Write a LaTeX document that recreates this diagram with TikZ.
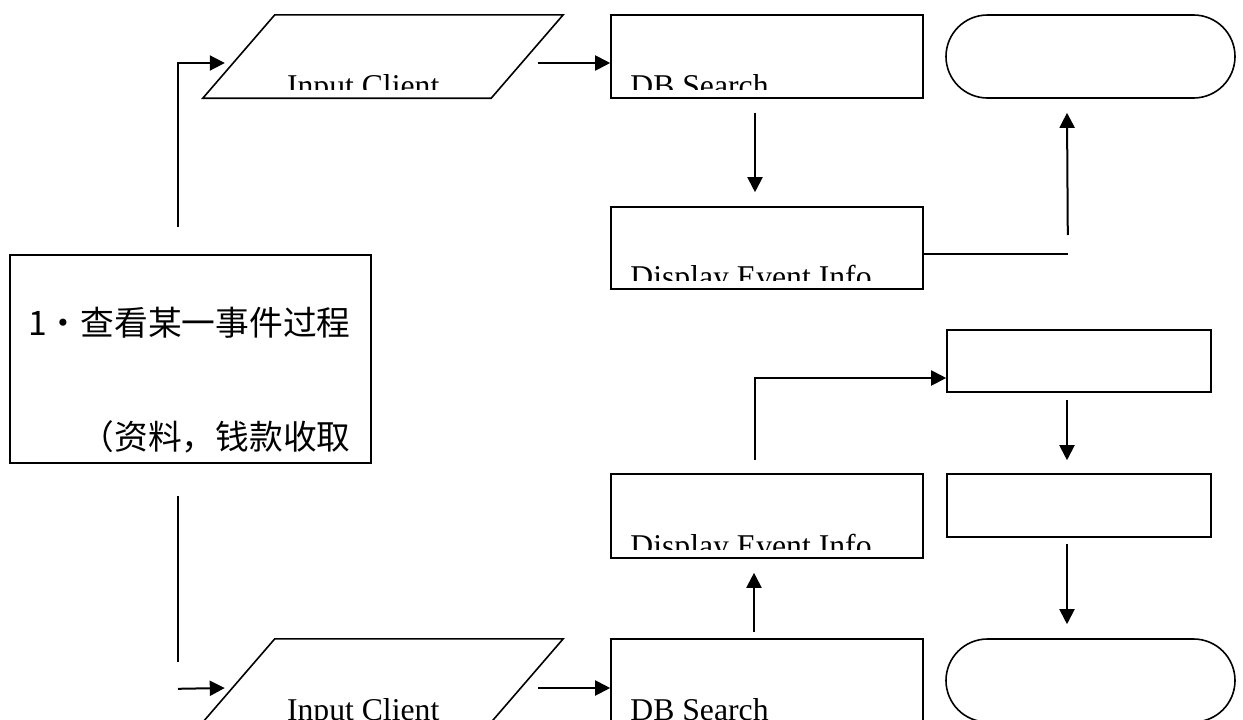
\documentclass[tikz,border=0pt]{standalone}
\usepackage{fontspec}
\setmainfont{Liberation Serif}
\newfontfamily\cjk{Noto Sans CJK SC}
\usetikzlibrary{arrows.meta,calc,positioning}

% text cut off a little above the bottom of its box
\newcommand{\cuttext}[4]{%
  \begin{scope}
    \clip (#1.north west) rectangle ([shift={(0,#3)}]#1.south east);
    \node[anchor=base west, inner sep=0pt] (#1-txt) at ([shift={(#2,-2)}]#1.south west) {#4};
  \end{scope}}

\begin{document}
\begin{tikzpicture}[x=1pt, y=-1pt, font=\fontsize{31.7}{38}\selectfont,
    box/.style={draw, line width=1.6pt, inner sep=0pt, minimum width=312pt, minimum height=83pt},
    io/.style={inner sep=0pt, minimum width=288pt, minimum height=83pt},
    term/.style={draw, line width=1.6pt, rounded corners=41.5pt, inner sep=0pt, minimum width=289pt, minimum height=83pt},
    arr/.style={line width=2pt, -{Triangle[length=15pt,width=15pt]}},
    wire/.style={line width=1.8pt}]
        \useasboundingbox (0,0) rectangle (1243,720);
        \clip (0,0) rectangle (1243,720);

        % Task box
        \node[box, minimum width=361pt, minimum height=208pt] (task) at (190.5,359) {};
        \node[font=\cjk\fontsize{33.75}{40}\selectfont, anchor=east, inner sep=0pt] (task1) at ([shift={(-21,-36)}]task.east) {1\makebox[1em]{·}查看某一事件过程};
        \node[font=\cjk\fontsize{33.75}{40}\selectfont, anchor=east, inner sep=0pt] (task2) at ([shift={(-21,78)}]task.east) {（资料，钱款收取};

        % Top row
        \node[io] (in1) at (383,56.5) {};
        \draw[line width=1.6pt] ([shift={(36,0)}]in1.north west) -- ([shift={(36,0)}]in1.north east)
            -- ([shift={(-36,0)}]in1.south east) -- ([shift={(-36,0)}]in1.south west) -- cycle;
        \cuttext{in1}{48}{-9}{Input Client}
        \node[box] (db1) at (767,56.5) {};
        \cuttext{db1}{20}{-9}{DB Search}
        \node[term] (end1) at (1090.5,56.5) {};
        \node[box, minimum height=82pt] (show1) at (767,248) {};
        \cuttext{show1}{20}{-9}{Display Event Info}

        % Bottom row
        \node[io] (in2) at (383,680.5) {};
        \draw[line width=1.6pt] ([shift={(36,0)}]in2.north west) -- ([shift={(36,0)}]in2.north east)
            -- ([shift={(-36,0)}]in2.south east) -- ([shift={(-36,0)}]in2.south west) -- cycle;
        \cuttext{in2}{48}{10}{Input Client}
        \node[box] (db2) at (767,680.5) {};
        \cuttext{db2}{20}{10}{DB Search}
        \node[term] (end2) at (1090.5,680.5) {};
        \node[box, minimum height=84pt] (show2) at (767,516) {};
        \cuttext{show2}{20}{-9}{Display Event Info}
        \node[box, minimum width=264pt, minimum height=62pt] (step1) at (1079,361) {};
        \node[box, minimum width=264pt, minimum height=63pt] (step2) at (1079,505.5) {};

        % Connections (top)
        \draw[arr] ([shift={(-12.5,-27)}]task.north) |- ([shift={(-14,6.5)}]in1.west);
        \draw[arr] ([shift={(11,6.5)}]in1.east) -- ([shift={(0,6.5)}]db1.west);
        \draw[arr] ([shift={(-12,14)}]db1.south) -- ([shift={(-12,-14)}]show1.north);
        \draw[wire] ([shift={(0,6)}]show1.east) -- ++(144,0) coordinate (bend);
        \draw[arr] ([shift={(0,-19)}]bend) -- ([shift={(-23.5,14)}]end1.south);

        % Connections (bottom)
        \draw[wire] ([shift={(-12.5,32)}]task.south) -- ++(0,166) coordinate (drop);
        \draw[arr] ([shift={(0,27)}]drop) -- ([shift={(-14,7.5)}]in2.west);
        \draw[arr] ([shift={(11,7.5)}]in2.east) -- ([shift={(0,7.5)}]db2.west);
        \draw[arr] ([shift={(-13,-6)}]db2.north) -- ([shift={(-13,14)}]show2.south);
        \draw[arr] ([shift={(-12,-13)}]show2.north) |- ([shift={(0,17)}]step1.west);
        \draw[arr] ([shift={(-12,7)}]step1.south) -- ([shift={(-12,-13)}]step2.north);
        \draw[arr] ([shift={(-12,6)}]step2.south) -- ([shift={(-23.5,-14)}]end2.north);
    \end{tikzpicture}
\end{document}
